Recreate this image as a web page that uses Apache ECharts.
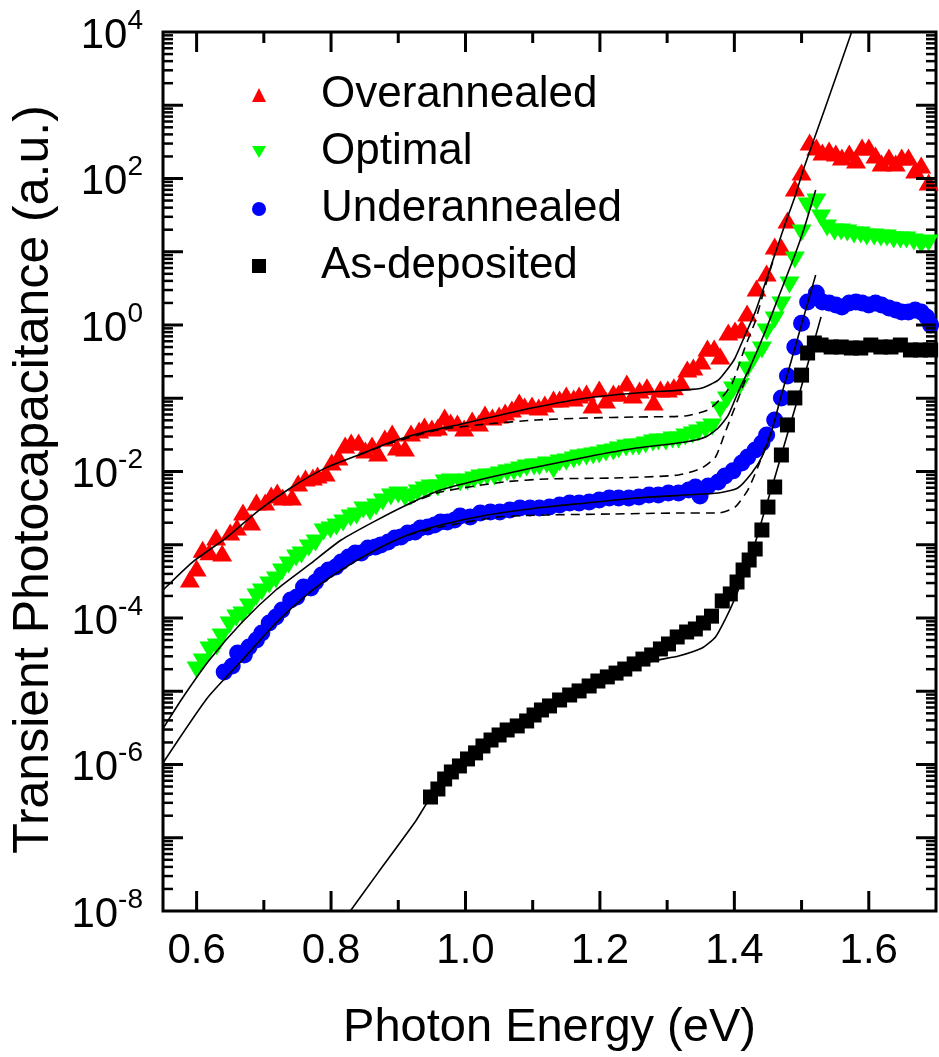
<!DOCTYPE html>
<html>
<head>
<meta charset="utf-8">
<title>Transient Photocapacitance</title>
<script src="https://cdn.jsdelivr.net/npm/echarts@6.0.0/dist/echarts.min.js"></script>
<style>
  html, body { margin: 0; padding: 0; background: #fff; }
  #chart { width: 939px; height: 1057px; }
</style>
</head>
<body>
<div id="chart"></div>
<script>
// ---- measured spectra: photon energy (eV) and transient photocapacitance (a.u.) ----
const overannealedE = [
  0.590, 0.600, 0.609, 0.619, 0.629, 0.638, 0.650, 0.660, 0.669, 0.681, 0.689, 0.702, 0.711, 0.720, 0.728, 0.742,
  0.751, 0.762, 0.773, 0.780, 0.792, 0.801, 0.811, 0.821, 0.830, 0.841,
  0.851, 0.861, 0.870, 0.880, 0.891, 0.898, 0.910, 0.919, 0.931, 0.939,
  0.950, 0.959, 0.969, 0.978, 0.988, 0.998, 1.010, 1.020, 1.029, 1.040,
  1.050, 1.059, 1.069, 1.080, 1.088, 1.099, 1.109, 1.118, 1.131, 1.140,
  1.150, 1.161, 1.169, 1.180, 1.189, 1.199, 1.209, 1.220, 1.228, 1.240,
  1.249, 1.259, 1.270, 1.280, 1.290, 1.301, 1.310, 1.321, 1.330, 1.339,
  1.351, 1.360, 1.370, 1.379, 1.391, 1.401, 1.411, 1.419, 1.433, 1.448,
  1.460, 1.470, 1.479, 1.490, 1.500, 1.512, 1.522, 1.531, 1.541, 1.551,
  1.560, 1.571, 1.581, 1.590, 1.600, 1.610, 1.619, 1.630, 1.640, 1.649,
  1.659, 1.669, 1.678, 1.689
];
const overannealedV = [
  3.4e-4, 4.8e-4, 8.7e-4, 8.0e-4, 1.28e-3, 7.7e-4, 1.49e-3, 1.75e-3, 2.80e-3, 2.05e-3, 3.84e-3, 3.84e-3, 4.78e-3, 5.25e-3, 4.49e-3, 4.49e-3,
  6.97e-3, 8.15e-3, 8.41e-3, 8.95e-3, 9.55e-3, 1.35e-2, 1.58e-2, 2.30e-2, 2.53e-2, 2.53e-2,
  1.97e-2, 2.30e-2, 1.79e-2, 2.86e-2, 3.36e-2, 2.16e-2, 2.09e-2, 3.36e-2, 3.69e-2, 4.18e-2,
  3.93e-2, 4.06e-2, 5.55e-2, 4.74e-2, 4.59e-2, 3.93e-2, 5.05e-2, 4.59e-2, 6.10e-2, 5.55e-2,
  5.90e-2, 6.49e-2, 7.13e-2, 8.89e-2, 7.83e-2, 8.09e-2, 7.60e-2, 8.36e-2, 9.77e-2, 9.77e-2,
  0.111, 0.101, 0.111, 0.118, 8.09e-2, 0.134, 9.46e-2, 0.118, 0.118, 0.161,
  0.111, 0.130, 0.143, 8.89e-2, 0.134, 0.134, 0.143, 0.167, 0.251, 0.267,
  0.323, 0.485, 0.485, 0.378, 0.802, 0.855, 0.910, 1.46, 3.20, 5.13,
  12.0, 11.6, 27.1, 74.1, 123, 315, 269, 230, 245, 223,
  197, 223, 179, 269, 269, 209, 163, 197, 163, 197,
  197, 131, 153, 89.5
];

const optimalE = [
  0.600, 0.609, 0.619, 0.630, 0.637, 0.649, 0.659, 0.668, 0.678, 0.689,
  0.697, 0.708, 0.718, 0.727, 0.737, 0.748, 0.756, 0.767, 0.777, 0.789,
  0.799, 0.808, 0.818, 0.829, 0.838, 0.848, 0.858, 0.867, 0.877, 0.889,
  0.900, 0.910, 0.919, 0.929, 0.939, 0.948, 0.959, 0.969, 0.978, 0.992,
  1.003, 1.013, 1.022, 1.032, 1.043, 1.051, 1.062, 1.072, 1.081, 1.091,
  1.102, 1.110, 1.121, 1.131, 1.140, 1.150, 1.161, 1.169, 1.180, 1.190,
  1.199, 1.209, 1.220, 1.228, 1.239, 1.249, 1.258, 1.268, 1.279, 1.287,
  1.298, 1.308, 1.317, 1.327, 1.338, 1.346, 1.357, 1.367, 1.379, 1.389,
  1.398, 1.408, 1.419, 1.428, 1.441, 1.448, 1.460, 1.470, 1.482, 1.490,
  1.500, 1.509, 1.522, 1.529, 1.538, 1.549, 1.559, 1.568, 1.578, 1.588,
  1.597, 1.608, 1.618, 1.627, 1.637, 1.647, 1.656, 1.667, 1.678, 1.689
];
const optimalV = [
  1.95e-5, 2.51e-5, 3.66e-5, 4.02e-5, 5.51e-5, 8.02e-5, 1.00e-4, 1.10e-4, 1.41e-4, 1.94e-4,
  2.26e-4, 2.82e-4, 3.30e-4, 4.25e-4, 5.30e-4, 6.59e-4, 7.24e-4, 9.04e-4, 1.06e-3, 1.49e-3,
  1.59e-3, 1.75e-3, 1.98e-3, 2.32e-3, 2.47e-3, 2.98e-3, 2.80e-3, 3.27e-3, 3.84e-3, 4.49e-3,
  4.78e-3, 4.35e-3, 4.49e-3, 5.08e-3, 5.58e-3, 5.96e-3, 5.96e-3, 6.97e-3, 7.19e-3, 6.97e-3,
  7.19e-3, 7.66e-3, 8.15e-3, 8.41e-3, 8.41e-3, 8.95e-3, 9.55e-3, 9.84e-3, 1.05e-2, 1.12e-2,
  1.15e-2, 1.15e-2, 1.23e-2, 1.05e-2, 1.31e-2, 1.35e-2, 1.44e-2, 1.53e-2, 1.58e-2, 1.63e-2,
  1.68e-2, 1.79e-2, 1.85e-2, 1.97e-2, 2.09e-2, 2.16e-2, 2.16e-2, 2.30e-2, 2.45e-2, 2.53e-2,
  2.53e-2, 2.69e-2, 2.69e-2, 2.96e-2, 3.15e-2, 3.36e-2, 3.69e-2, 4.06e-2, 6.92e-2, 9.46e-2,
  0.130, 0.143, 0.243, 0.333, 0.456, 0.802, 1.17, 1.87, 3.52, 7.71,
  18.0, 42.2, 47.8, 28.9, 21.1, 18.6, 18.6, 18.0, 16.9, 16.9,
  15.9, 15.9, 15.4, 15.4, 14.5, 14.5, 14.5, 13.6, 12.4, 13.2
];

const underannealedE = [
  0.641, 0.653, 0.661, 0.671, 0.678, 0.689, 0.697, 0.708, 0.718, 0.727,
  0.740, 0.749, 0.759, 0.770, 0.777, 0.786, 0.796, 0.807, 0.815, 0.826,
  0.836, 0.845, 0.855, 0.866, 0.874, 0.885, 0.895, 0.904, 0.914, 0.925,
  0.933, 0.944, 0.954, 0.963, 0.973, 0.984, 0.992, 1.007, 1.022, 1.037,
  1.051, 1.066, 1.081, 1.096, 1.110, 1.125, 1.140, 1.155, 1.169, 1.184,
  1.199, 1.214, 1.228, 1.243, 1.258, 1.273, 1.287, 1.302, 1.317, 1.332,
  1.342, 1.349, 1.361, 1.376, 1.386, 1.398, 1.411, 1.420, 1.431, 1.441,
  1.448, 1.460, 1.470, 1.479, 1.490, 1.500, 1.509, 1.522, 1.531, 1.541,
  1.551, 1.560, 1.571, 1.581, 1.590, 1.600, 1.610, 1.619, 1.630, 1.640,
  1.649, 1.659, 1.669, 1.678, 1.686, 1.692
];
const underannealedV = [
  1.83e-5, 2.21e-5, 3.33e-5, 3.13e-5, 4.02e-5, 5.01e-5, 6.24e-5, 8.55e-5, 1.03e-4, 1.29e-4,
  1.76e-4, 1.94e-4, 2.65e-4, 2.57e-4, 3.10e-4, 3.86e-4, 4.52e-4, 4.97e-4, 5.81e-4, 6.81e-4,
  7.71e-4, 7.71e-4, 9.04e-4, 9.31e-4, 9.93e-4, 1.09e-3, 1.24e-3, 1.28e-3, 1.45e-3, 1.49e-3,
  1.69e-3, 1.75e-3, 1.86e-3, 2.05e-3, 2.05e-3, 2.18e-3, 2.47e-3, 2.39e-3, 2.71e-3, 2.80e-3,
  2.80e-3, 2.98e-3, 3.18e-3, 3.18e-3, 3.18e-3, 3.27e-3, 3.49e-3, 3.72e-3, 3.72e-3, 3.84e-3,
  4.08e-3, 4.35e-3, 4.35e-3, 4.35e-3, 4.49e-3, 4.78e-3, 4.78e-3, 5.08e-3, 5.08e-3, 5.58e-3,
  6.14e-3, 4.63e-3, 6.34e-3, 7.19e-3, 8.69e-3, 1.02e-2, 1.31e-2, 1.58e-2, 1.97e-2, 2.45e-2,
  3.15e-2, 5.05e-2, 0.101, 0.201, 0.501, 1.06, 2.06, 2.74, 2.06, 2.00,
  1.87, 1.76, 2.00, 2.06, 2.00, 1.87, 2.00, 1.87, 1.71, 1.60,
  1.50, 1.50, 1.60, 1.50, 1.29, 1.00
];

const asDepositedE = [
  0.948, 0.959, 0.969, 0.979, 0.991, 1.003, 1.015, 1.026, 1.038, 1.050,
  1.062, 1.077, 1.091, 1.102, 1.113, 1.125, 1.140, 1.155, 1.169, 1.184,
  1.197, 1.211, 1.224, 1.237, 1.251, 1.264, 1.277, 1.290, 1.302, 1.315,
  1.329, 1.342, 1.354, 1.366, 1.382, 1.394, 1.404, 1.413, 1.422, 1.431,
  1.441, 1.450, 1.460, 1.470, 1.479, 1.490, 1.500, 1.509, 1.519, 1.529,
  1.544, 1.559, 1.574, 1.588, 1.603, 1.618, 1.633, 1.647, 1.662, 1.677,
  1.692
];
const asDepositedV = [
  3.60e-7, 4.63e-7, 6.34e-7, 7.91e-7, 9.55e-7, 1.19e-6, 1.44e-6, 1.79e-6, 2.16e-6, 2.53e-6,
  2.96e-6, 3.36e-6, 3.93e-6, 4.74e-6, 5.55e-6, 6.30e-6, 7.60e-6, 8.89e-6, 1.01e-5, 1.18e-5,
  1.38e-5, 1.57e-5, 1.77e-5, 2.01e-5, 2.36e-5, 2.75e-5, 3.13e-5, 3.78e-5, 4.42e-5, 5.51e-5,
  6.44e-5, 7.08e-5, 8.55e-5, 1.06e-4, 1.71e-4, 2.13e-4, 3.10e-4, 4.52e-4, 6.19e-4, 8.75e-4,
  1.59e-3, 3.27e-3, 6.14e-3, 1.68e-2, 4.32e-2, 0.101, 0.207, 0.415, 0.568, 0.533,
  0.501, 0.501, 0.485, 0.485, 0.533, 0.501, 0.501, 0.533, 0.456, 0.456,
  0.456
];

// ---- model curves: full fit (solid) and defect-band component (dashed) ----
const overFitE = [0.550, 0.594, 0.644, 0.693, 0.742, 0.792, 0.841, 0.889, 0.939, 0.988, 1.032, 1.106, 1.180, 1.254, 1.327,
  1.352, 1.376, 1.391, 1.401, 1.416, 1.431, 1.445, 1.460, 1.475, 1.490, 1.504, 1.534, 1.574, 1.593];
const overFitV = [2.41e-4, 5.81e-4, 1.24e-3, 2.98e-3, 6.14e-3, 1.12e-2, 1.68e-2, 2.53e-2, 3.46e-2, 4.32e-2, 5.37e-2, 7.60e-2, 0.101, 0.118, 0.130,
  0.138, 0.177, 0.259, 0.354, 0.729, 1.50, 3.52, 9.04, 23.2, 55.8, 144, 861, 9680, 32000];
const overDashE = [0.841, 0.889, 0.959, 1.032, 1.106, 1.180, 1.254, 1.327, 1.361, 1.382, 1.397, 1.416, 1.431, 1.445, 1.460];
const overDashV = [1.68e-2, 2.45e-2, 3.69e-2, 4.45e-2, 5.05e-2, 5.37e-2, 5.55e-2, 5.73e-2, 6.92e-2, 0.104, 0.161, 0.501, 1.12, 3.16, 8.9];

const optFitE = [0.550, 0.579, 0.619, 0.668, 0.718, 0.767, 0.815, 0.866, 0.914, 0.963, 1.032, 1.106, 1.180, 1.254, 1.327,
  1.357, 1.376, 1.391, 1.405, 1.426, 1.445, 1.464, 1.490, 1.504, 1.521];
const optFitV = [3.1e-6, 8.09e-6, 2.67e-5, 8.81e-5, 2.41e-4, 5.30e-4, 1.16e-3, 2.12e-3, 3.55e-3, 5.58e-3, 8.15e-3, 1.15e-2, 1.58e-2, 2.09e-2, 2.53e-2,
  2.96e-2, 3.93e-2, 5.90e-2, 0.118, 0.303, 0.778, 2.19, 9.04, 21.1, 69.7];
const optDashE = [0.914, 0.963, 1.057, 1.121, 1.220, 1.317, 1.352, 1.372, 1.386, 1.401, 1.416, 1.426];
const optDashV = [3.55e-3, 5.25e-3, 7.19e-3, 7.91e-3, 8.15e-3, 8.95e-3, 1.12e-2, 1.58e-2, 3.36e-2, 7.60e-2, 0.174, 0.303];

const undFitE = [0.550, 0.616, 0.668, 0.718, 0.767, 0.815, 0.866, 0.914, 0.963, 1.032, 1.106, 1.180, 1.254, 1.327,
  1.376, 1.405, 1.426, 1.441, 1.456, 1.470, 1.485, 1.504, 1.521];
const undFitV = [1.05e-6, 8.09e-6, 2.67e-5, 8.55e-5, 2.19e-4, 4.52e-4, 8.47e-4, 1.36e-3, 1.86e-3, 2.55e-3, 3.18e-3, 3.72e-3, 4.35e-3, 4.78e-3,
  5.08e-3, 5.96e-3, 9.55e-3, 1.58e-2, 3.69e-2, 0.111, 0.333, 1.37, 4.82];
const undDashE = [0.914, 0.963, 1.047, 1.121, 1.220, 1.317, 1.376, 1.401, 1.420, 1.435, 1.445, 1.456];
const undDashV = [1.36e-3, 1.75e-3, 2.39e-3, 2.55e-3, 2.63e-3, 2.71e-3, 2.71e-3, 3.27e-3, 5.58e-3, 1.15e-2, 2.03e-2, 3.69e-2];

const asdFitE = [0.811, 0.870, 0.925, 0.948, 1.003, 1.077, 1.150, 1.224, 1.273, 1.317, 1.352, 1.372, 1.386, 1.401,
  1.416, 1.431, 1.445, 1.460, 1.479, 1.500, 1.529];
const asdFitV = [5.96e-9, 3.34e-8, 1.64e-7, 3.49e-7, 1.08e-6, 3.05e-6, 7.36e-6, 1.57e-5, 2.51e-5, 3.03e-5, 3.89e-5, 5.51e-5, 9.39e-5, 1.87e-4,
  4.25e-4, 1.06e-3, 2.89e-3, 8.15e-3, 3.25e-2, 0.147, 1.29];

// ---- axis ticks ----
const xMajorTicks = [0.6, 0.8, 1.0, 1.2, 1.4, 1.6];
const xMinorTicks = [0.7, 0.9, 1.1, 1.3, 1.5];
const yDecades = [1e-8, 1e-7, 1e-6, 1e-5, 1e-4, 1e-3, 1e-2, 1e-1, 1, 1e1, 1e2, 1e3, 1e4];

const FONT = '"Liberation Sans", Arial, Helvetica, sans-serif';

function pairs(e, v) { return e.map((x, i) => [x, v[i]]); }

function markers(name, e, v, symbol, size, color, rotate) {
  return {
    name, type: 'scatter', data: pairs(e, v),
    symbol, symbolSize: size, symbolRotate: rotate || 0,
    itemStyle: { color, opacity: 1 }, z: 2, silent: true
  };
}

function curve(name, e, v, dashed) {
  return {
    name, type: 'line', data: pairs(e, v),
    showSymbol: false, symbol: 'none', smooth: 0.2,
    lineStyle: { color: '#000', width: 1.6, type: dashed ? [9, 6] : 'solid' },
    z: 3, silent: true, clip: true
  };
}

// tick marks pointing inward on all four sides of the frame
const yMajorInner = yDecades.slice(1, -1);
const yMinor = [];
yDecades.slice(0, -1).forEach(d => { for (let k = 2; k <= 9; k++) yMinor.push(k * d); });

const xTickData = xMajorTicks.map(v => [v, 1, 1]).concat(xMinorTicks.map(v => [v, 1, 0]));
const yTickData = yMajorInner.map(v => [1, v, 1]).concat(yMinor.map(v => [1, v, 0]));

function renderXTick(params, api) {
  const cs = params.coordSys;
  const px = api.coord([api.value(0), 1])[0];
  const len = api.value(2) === 1 ? 20 : 11;
  const style = { stroke: '#000', lineWidth: 3 };
  const bottom = cs.y + cs.height;
  return {
    type: 'group', children: [
      { type: 'line', shape: { x1: px, y1: bottom, x2: px, y2: bottom - len }, style },
      { type: 'line', shape: { x1: px, y1: cs.y, x2: px, y2: cs.y + len }, style }
    ]
  };
}

function renderYTick(params, api) {
  const cs = params.coordSys;
  const py = api.coord([1, api.value(1)])[1];
  const major = api.value(2) === 1;
  const len = major ? 20 : 10;
  const style = { stroke: '#000', lineWidth: major ? 3 : 2.5 };
  const right = cs.x + cs.width;
  return {
    type: 'group', children: [
      { type: 'line', shape: { x1: cs.x, y1: py, x2: cs.x + len, y2: py }, style },
      { type: 'line', shape: { x1: right, y1: py, x2: right - len, y2: py }, style }
    ]
  };
}

const chart = echarts.init(document.getElementById('chart'), null, { renderer: 'canvas' });

chart.setOption({
  animation: false,
  backgroundColor: '#fff',
  textStyle: { fontFamily: FONT, color: '#000' },
  grid: {
    left: 163, top: 32, width: 780, height: 879,
    show: true, borderColor: '#000', borderWidth: 3, backgroundColor: 'transparent'
  },
  legend: {
    data: [
      { name: 'Overannealed', icon: 'triangle' },
      { name: 'Optimal', icon: 'path://M0,0 L20,0 L10,17 Z' },
      { name: 'Underannealed', icon: 'circle' },
      { name: 'As-deposited', icon: 'rect' }
    ],
    orient: 'vertical', left: 247, top: 68,
    itemWidth: 14, itemHeight: 14, itemGap: 13,
    selectedMode: false,
    textStyle: { fontSize: 44, fontFamily: FONT, color: '#000', lineHeight: 44, padding: [0, 0, 0, 50] }
  },
  xAxis: {
    type: 'value', min: 0.55, max: 1.7, interval: 0.05,
    name: 'Photon Energy (eV)', nameLocation: 'middle', nameGap: 94,
    nameTextStyle: { fontSize: 47, fontFamily: FONT, color: '#000' },
    axisLine: { show: false }, axisTick: { show: false }, splitLine: { show: false },
    axisLabel: {
      margin: 19, fontSize: 42, fontFamily: FONT, color: '#000',
      formatter: v => { const c = Math.round(v * 100); return c % 20 === 0 ? (c / 100).toFixed(1) : ''; }
    }
  },
  yAxis: {
    type: 'log', logBase: 10, min: 1e-8, max: 1e4, interval: 2,
    name: 'Transient Photocapacitance (a.u.)', nameLocation: 'middle', nameGap: 104,
    nameTextStyle: { fontSize: 50, fontFamily: FONT, color: '#000', padding: [0, 16, 0, 0] },
    axisLine: { show: false }, axisTick: { show: false }, splitLine: { show: false }, minorTick: { show: false },
    axisLabel: {
      margin: 20, color: '#000',
      formatter: v => {
        const p = Math.round(Math.log10(v));
        return p % 2 === 0 ? '{b|10}{s|' + p + '}' : '';
      },
      rich: {
        b: { fontSize: 42, fontFamily: FONT, color: '#000', padding: [8, 0, 0, 0], verticalAlign: 'bottom' },
        s: { fontSize: 28, fontFamily: FONT, color: '#000', verticalAlign: 'top' }
      }
    }
  },
  series: [
    markers('Overannealed', overannealedE, overannealedV, 'triangle', [20, 17], '#ff0000'),
    markers('Optimal', optimalE, optimalV, 'triangle', [20, 17], '#00ff00', 180),
    markers('Underannealed', underannealedE, underannealedV, 'circle', 17, '#0000ff'),
    markers('As-deposited', asDepositedE, asDepositedV, 'rect', 15, '#000000'),
    curve('Overannealed fit', overFitE, overFitV, false),
    curve('Overannealed defect band', overDashE, overDashV, true),
    curve('Optimal fit', optFitE, optFitV, false),
    curve('Optimal defect band', optDashE, optDashV, true),
    curve('Underannealed fit', undFitE, undFitV, false),
    curve('Underannealed defect band', undDashE, undDashV, true),
    curve('As-deposited fit', asdFitE, asdFitV, false),
    {
      name: 'x ticks', type: 'custom', renderItem: renderXTick, data: xTickData,
      encode: { x: 0, y: 1 }, silent: true, z: 5, clip: false
    },
    {
      name: 'y ticks', type: 'custom', renderItem: renderYTick, data: yTickData,
      encode: { x: 0, y: 1 }, silent: true, z: 5, clip: false
    }
  ]
});
</script>
</body>
</html>
